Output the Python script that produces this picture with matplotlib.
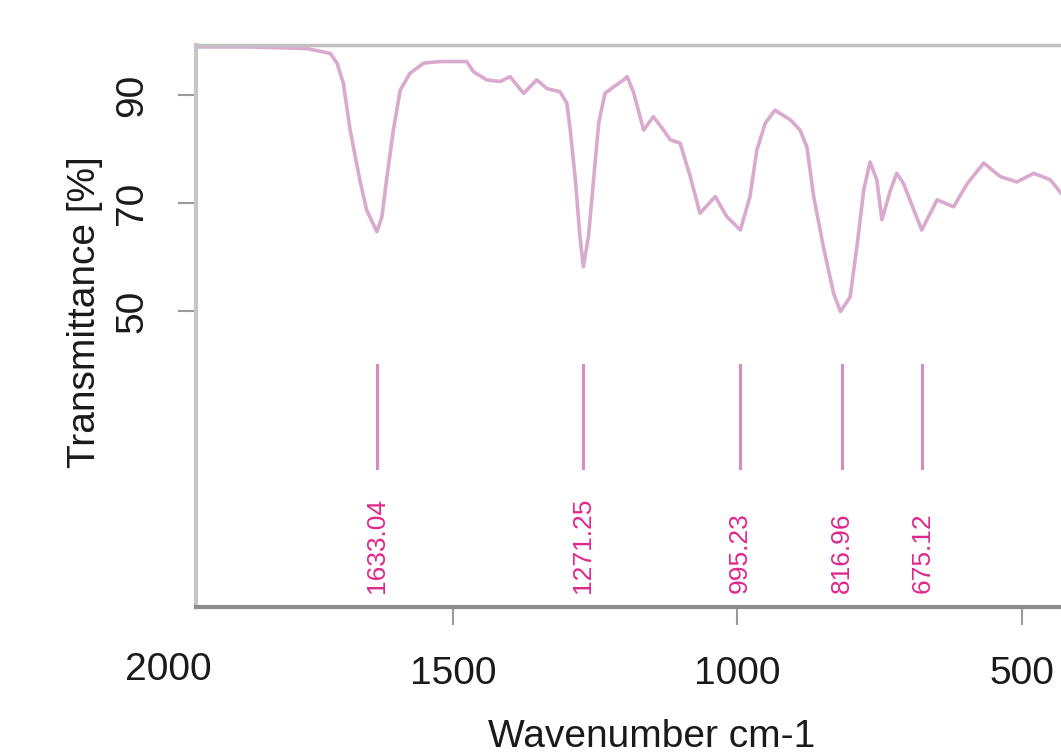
import matplotlib
matplotlib.use("Agg")
import matplotlib.pyplot as plt
import matplotlib.transforms as mtransforms

plt.rcParams['font.family'] = ['Liberation Sans', 'DejaVu Sans']

# spectrum (wavenumber cm-1, transmittance %)
wavenumber = [1950, 1857, 1757, 1716, 1704, 1693, 1681, 1664, 1652, 1634,
              1625, 1617, 1605, 1593, 1576, 1552, 1523, 1476, 1464, 1441,
              1417, 1400, 1376, 1353, 1335, 1312, 1300, 1294, 1285, 1277,
              1271, 1262, 1253, 1244, 1233, 1218, 1200, 1194, 1183, 1165,
              1148, 1130, 1118, 1101, 1083, 1066, 1039, 1019, 995, 978,
              966, 951, 934, 907, 890, 878, 866, 849, 831, 819,
              802, 790, 778, 767, 755, 746, 731, 720, 708, 690,
              676, 661, 649, 620, 596, 567, 538, 509, 479, 450,
              431, 406]
transmittance = [98.9, 98.9, 98.6, 97.7, 95.9, 92.2, 83.5, 74.3, 68.7, 64.7,
                 67.5, 74.3, 83.5, 90.9, 94.0, 95.9, 96.2, 96.2, 94.3, 92.8,
                 92.5, 93.4, 90.3, 92.8, 91.2, 90.6, 88.5, 83.5, 74.3, 63.8,
                 58.2, 63.8, 74.3, 84.8, 90.3, 91.5, 92.8, 93.4, 90.6, 83.5,
                 86.0, 83.5, 81.7, 81.1, 74.9, 68.1, 71.2, 67.5, 65.0, 71.2,
                 79.8, 84.8, 87.2, 85.4, 83.5, 80.4, 71.2, 61.9, 53.3, 49.9,
                 52.6, 61.9, 72.4, 77.6, 74.3, 66.9, 72.4, 75.5, 73.6, 68.7,
                 65.0, 68.1, 70.6, 69.3, 73.6, 77.4, 74.9, 73.9, 75.5, 74.3,
                 71.8, 69.6]

peak_positions = [1633.04, 1271.25, 995.23, 816.96, 675.12]
peak_labels = ['1633.04', '1271.25', '995.23', '816.96', '675.12']

x_ticks = [1500, 1000, 500]
y_ticks = [50, 70, 90]

fig = plt.figure(figsize=(10.61, 7.52), dpi=100)
ax = fig.add_axes([196 / 1061, (752 - 607) / 752, 918 / 1061, 562 / 752])

ax.plot(wavenumber, transmittance, color='#d9aacd', lw=2.6, solid_joinstyle='round')

# peak markers and labels
for pos, lab in zip(peak_positions, peak_labels):
    ax.plot([pos, pos], [40, 21], color='#d68cc2', lw=2.2)
    ax.text(pos, -2.2, lab, rotation=90, ha='center', va='bottom',
            color='#e0278c', fontsize=19)

ax.set_xlim(1952, 338)
ax.set_ylim(-4.8, 99.26)

ax.set_xticks(x_ticks)
ax.set_xticklabels([str(t) for t in x_ticks])
ax.set_yticks(y_ticks)
ax.set_yticklabels([str(t) for t in y_ticks], rotation=90, va='center')

# label for 2000 falls left of the box
trans = mtransforms.blended_transform_factory(ax.transData, ax.transAxes)
ax.text(2000, -0.112, '2000', transform=trans, ha='center', va='center',
        fontsize=28, color='#1a1a1a', clip_on=False)

ax.tick_params(axis='both', direction='out', length=13, width=1.5,
               color='#9a9a9a', labelsize=28, labelcolor='#1a1a1a', pad=20)
ax.tick_params(axis='x', pad=22)

ax.spines['right'].set_visible(False)
ax.spines['top'].set_color('#c2c2c2')
ax.spines['top'].set_linewidth(2.5)
ax.spines['left'].set_color('#c6c6c6')
ax.spines['left'].set_linewidth(3)
ax.spines['bottom'].set_color('#8c8c8c')
ax.spines['bottom'].set_linewidth(3)

ax.set_xlabel('Wavenumber cm-1', fontsize=28, color='#1a1a1a')
ax.xaxis.set_label_coords(0.496, -0.231)
ax.xaxis.label.set_va('center')
ax.set_ylabel('Transmittance [%]', fontsize=28, color='#1a1a1a')
ax.yaxis.set_label_coords(-0.121, 0.525)
ax.yaxis.label.set_va('center')

fig.savefig('out.png', dpi=100)
